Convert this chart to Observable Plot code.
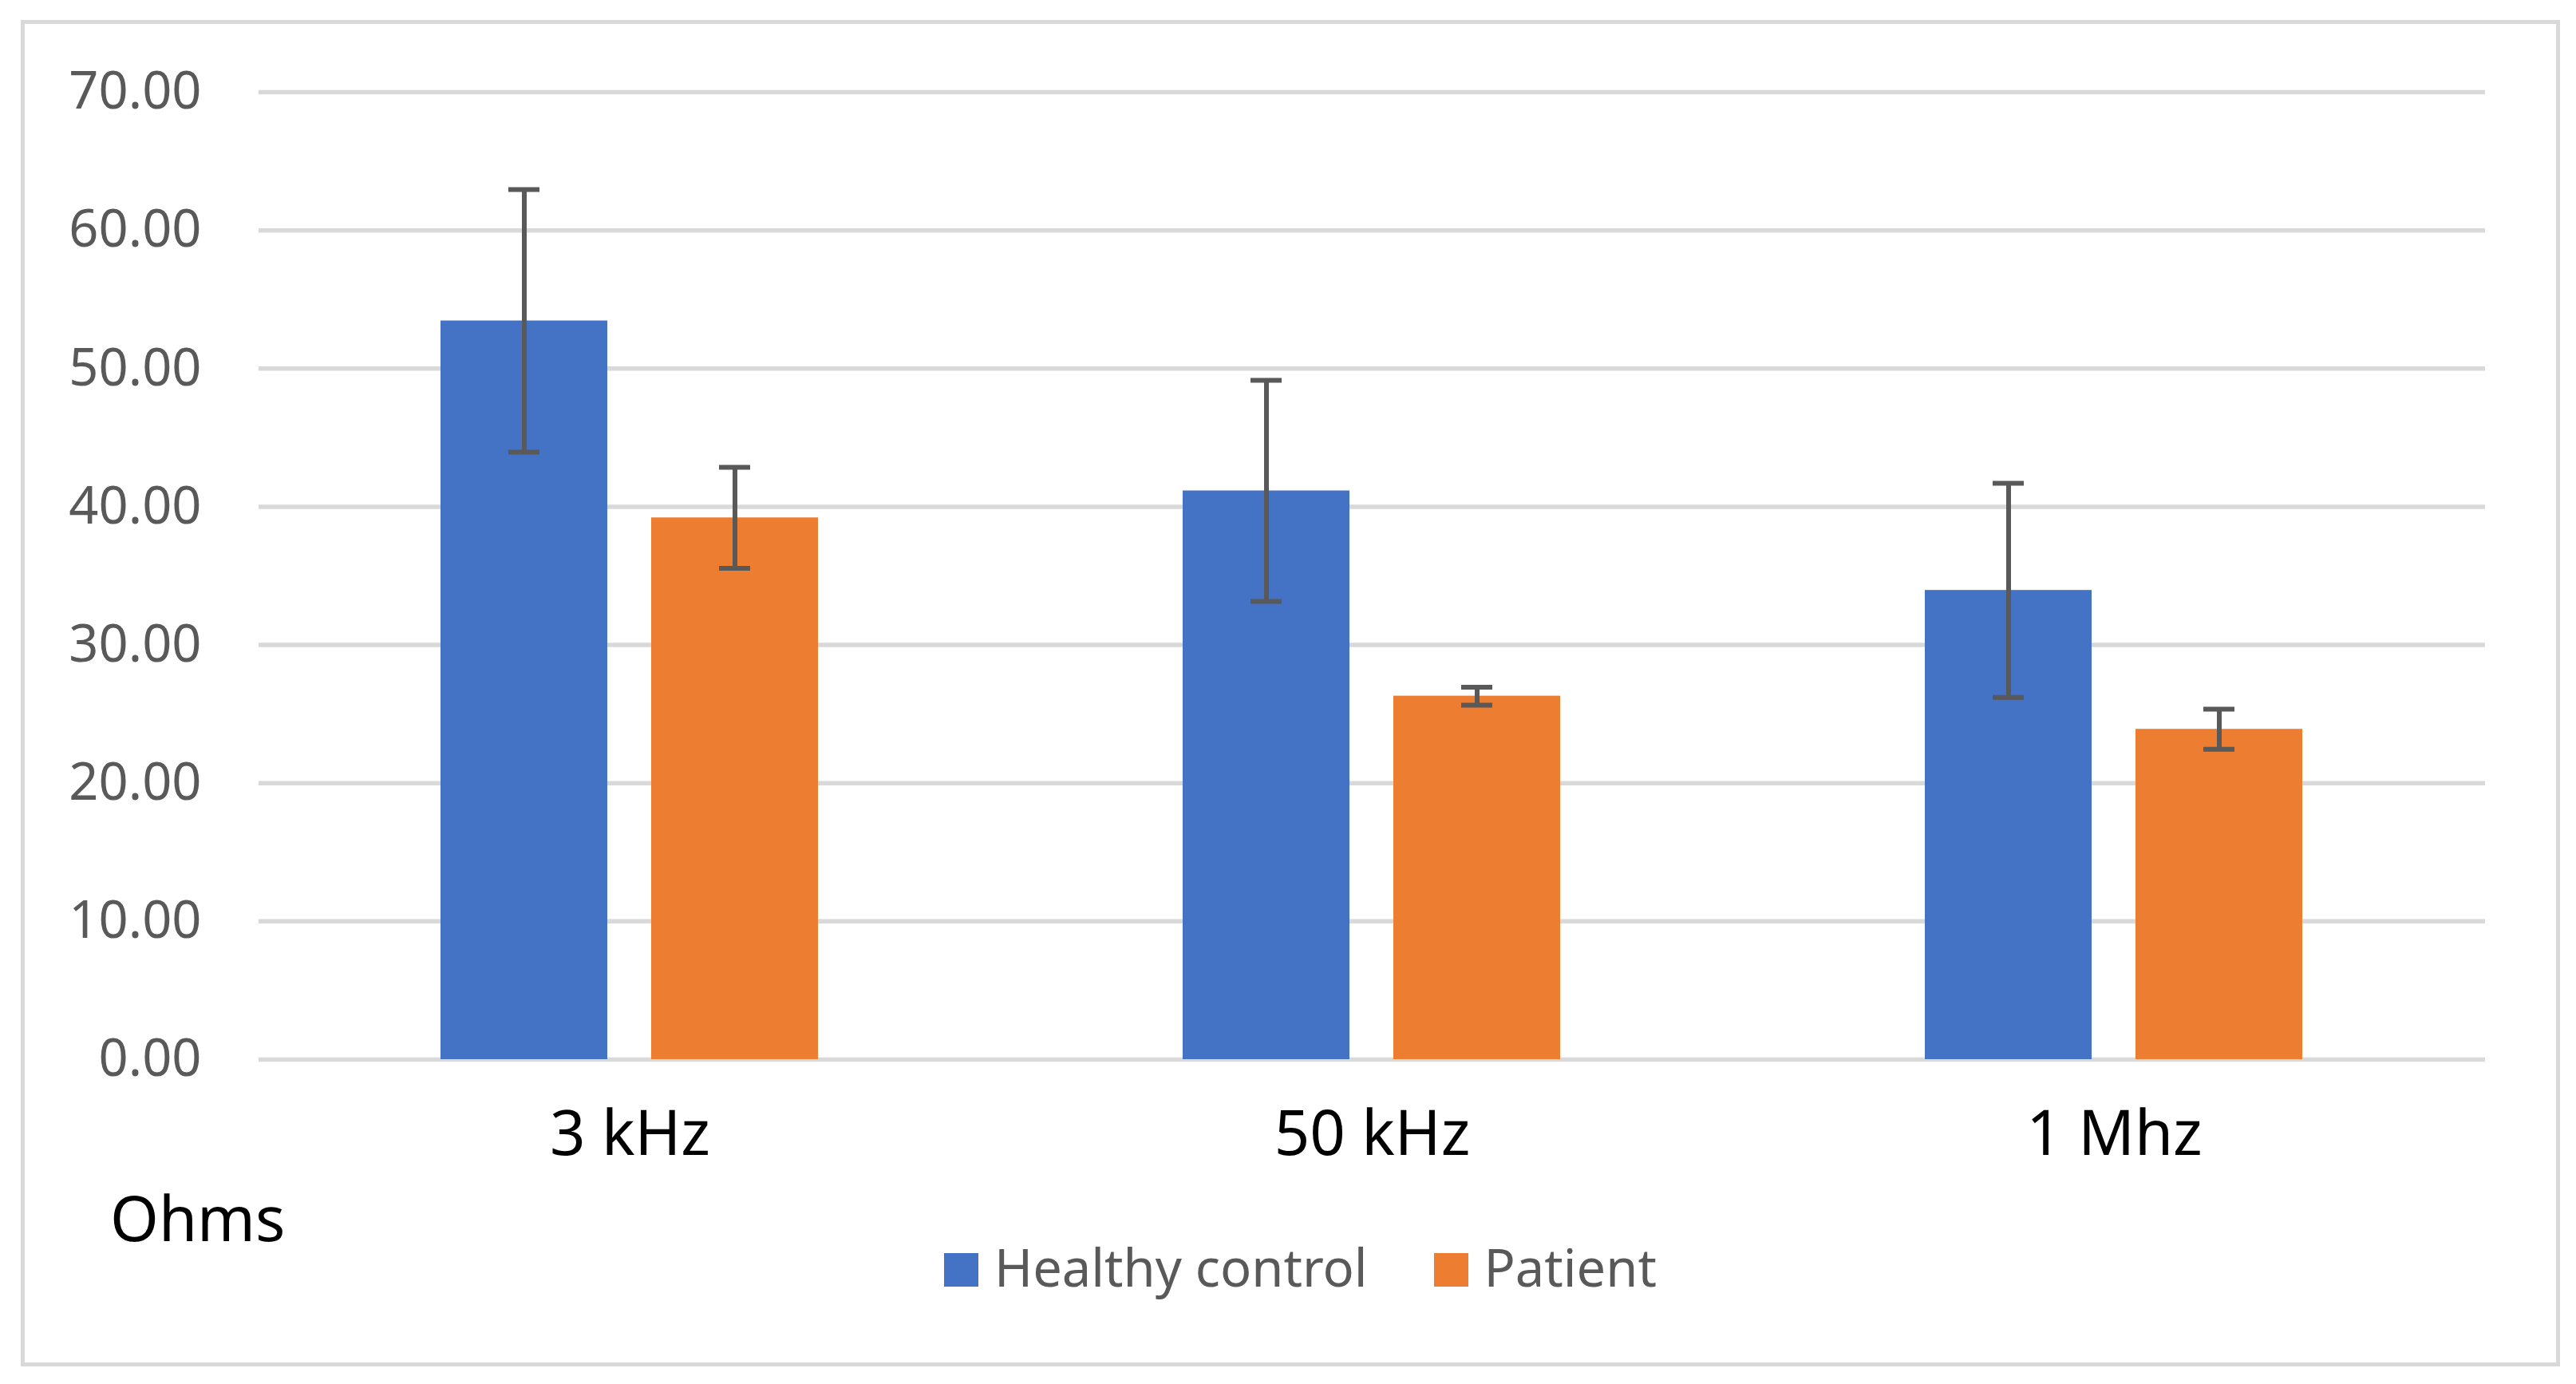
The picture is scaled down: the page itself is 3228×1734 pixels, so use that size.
<!DOCTYPE html>
<html><head><meta charset="utf-8">
<script src="https://cdn.jsdelivr.net/npm/d3@7"></script>
<script src="https://cdn.jsdelivr.net/npm/@observablehq/plot@0.6"></script>
<style>
body{margin:0;background:#fff;}
#wrap{position:relative;width:3228px;height:1734px;font-family:"Noto Sans",sans-serif;overflow:hidden;}
#border{position:absolute;left:26px;top:25px;width:3182px;height:1687px;border:5px solid #d9d9d9;box-sizing:border-box;}
#chart{position:absolute;left:0;top:0;}
#ohms{position:absolute;left:138px;top:1486px;font-size:78px;line-height:1;color:#000;white-space:nowrap;}
#legend{position:absolute;left:1183px;top:1555px;font-size:65px;line-height:1;color:#595959;white-space:nowrap;}
.sw{display:inline-block;width:43px;height:42px;vertical-align:baseline;margin-right:20px;}
.item{display:inline-block;margin-right:83px;}
</style>
</head><body>
<div id="wrap">
<div id="border"></div>
<div id="chart"></div>
<div id="ohms">Ohms</div>
<div id="legend"></div>
</div>
<script>
const categories = ["3 kHz", "50 kHz", "1 Mhz"];
const series = ["Healthy control", "Patient"];
const healthy = [53.45, 41.15, 33.95];
const patient = [39.2, 26.3, 23.9];
const healthyErr = [9.5, 8.0, 7.75];
const patientErr = [3.65, 0.65, 1.45];
const yTicks = [0, 10, 20, 30, 40, 50, 60, 70];
const colors = ["#4472C4", "#ED7D31"];

const rows = [];
categories.forEach((c, i) => {
  rows.push({category: c, series: series[0], value: healthy[i], lo: healthy[i] - healthyErr[i], hi: healthy[i] + healthyErr[i]});
  rows.push({category: c, series: series[1], value: patient[i], lo: patient[i] - patientErr[i], hi: patient[i] + patientErr[i]});
});

const errColor = "#595959";
const chart = Plot.plot({
  width: 3228,
  height: 1480,
  marginLeft: 324,
  marginRight: 114,
  marginTop: 115,
  marginBottom: 153,
  style: {fontFamily: "Noto Sans", background: "transparent"},
  fx: {domain: categories, paddingInner: 0, paddingOuter: 0, label: null},
  x: {domain: series, paddingInner: 0.208, paddingOuter: 0.865, axis: null},
  y: {domain: [0, 70], axis: null},
  color: {domain: series, range: colors},
  marks: [
    Plot.ruleY(yTicks, {stroke: "#d9d9d9", strokeWidth: 5.5}),
    Plot.barY(rows, {fx: "category", x: "series", y: "value", fill: "series"}),
    Plot.ruleX(rows, {fx: "category", x: "series", y1: "lo", y2: "hi", stroke: errColor, strokeWidth: 6}),
    Plot.tickY(rows, {fx: "category", x: "series", y: "lo", stroke: errColor, strokeWidth: 6, insetLeft: 85, insetRight: 85}),
    Plot.tickY(rows, {fx: "category", x: "series", y: "hi", stroke: errColor, strokeWidth: 6, insetLeft: 85, insetRight: 85}),
    Plot.axisY(yTicks, {tickFormat: d => d.toFixed(2), tickSize: 0, tickPadding: 72, fontSize: 65, fill: "#595959", label: null}),
    Plot.axisFx({anchor: "bottom", tickSize: 0, tickPadding: 64, fontSize: 78, fill: "#000", label: null})
  ]
});
document.getElementById("chart").appendChild(chart);

const legend = document.getElementById("legend");
series.forEach((s, i) => {
  const item = document.createElement("span");
  item.className = "item";
  const sw = document.createElement("span");
  sw.className = "sw";
  sw.style.background = colors[i];
  item.appendChild(sw);
  item.appendChild(document.createTextNode(s));
  legend.appendChild(item);
});
</script>
</body></html>
